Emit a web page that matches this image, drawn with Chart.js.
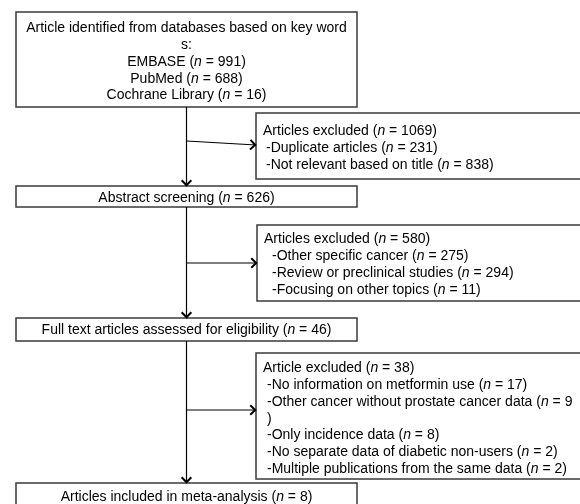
<!DOCTYPE html>
<html>
<head>
<meta charset="utf-8">
<script src="https://cdn.jsdelivr.net/npm/chart.js@4"></script>
<style>
  body { margin: 0; background: #fff; }
  #wrap { width: 580px; height: 504px; }
</style>
</head>
<body>
<div id="wrap"><canvas id="flow"></canvas></div>
<script>
// DATA
const headerLines = ["Article identified from databases based on key word", "s:"];
const sources = ["EMBASE", "PubMed", "Cochrane Library"];
const sourceCounts = [991, 688, 16];

const stageLabels = ["Abstract screening", "Full text articles assessed for eligibility", "Articles included in meta-analysis"];
const stageCounts = [626, 46, 8];

const excludedTitles = ["Articles excluded", "Articles excluded", "Article excluded"];
const excludedCounts = [1069, 580, 38];
const excludedReasons = [
  ["Duplicate articles", "Not relevant based on title"],
  ["Other specific cancer", "Review or preclinical studies", "Focusing on other topics"],
  ["No information on metformin use", "Other cancer without prostate cancer data", "Only incidence data",
   "No separate data of diabetic non-users", "Multiple publications from the same data"]
];
const reasonCounts = [
  [231, 838],
  [275, 294, 11],
  [17, 9, 8, 2, 2]
];

// LAYOUT (chart units, y grows downward)
const mainBox = { x0: 16, x1: 357 };
const sourceBox = { y0: 12, y1: 107, top: 28 };
const stageBoxes = [
  { y0: 186, y1: 207, top: 198 },
  { y0: 318, y1: 341, top: 330 },
  { y0: 483, y1: 522, top: 497 }
];
const exclBoxes = [
  { x0: 256, y0: 113, y1: 179, top: 131, indent: 3, from: 141, to: 145 },
  { x0: 257, y0: 225, y1: 301, top: 239, indent: 8, from: 263, to: 263 },
  { x0: 256, y0: 353, y1: 479, top: 368, indent: 4, from: 410, to: 410 }
];
const lineStep = 16.9;
const textPad = 7;
const FONT = "14px 'Liberation Sans', Arial, sans-serif";
const IFONT = "italic 14px 'Liberation Sans', Arial, sans-serif";

function countRuns(label, n){
  return [{ t: label + " (", it: false }, { t: "n", it: true }, { t: " = " + n + ")", it: false }];
}

function setFont(ctx, it){ ctx.font = it ? IFONT : FONT; }

// split runs into lines by characters when they pass maxW
function wrapRuns(ctx, runs, maxW){
  let lines = [[]], w = 0;
  runs.forEach(r => {
    setFont(ctx, r.it);
    let buf = "";
    for (const ch of r.t) {
      let cw = ctx.measureText(buf + ch).width - ctx.measureText(buf).width;
      if (w + cw > maxW && (buf || lines[lines.length - 1].length)) {
        if (buf) lines[lines.length - 1].push({ t: buf, it: r.it });
        lines.push([]);
        buf = ""; w = 0;
      }
      buf += ch; w += cw;
    }
    if (buf) lines[lines.length - 1].push({ t: buf, it: r.it });
  });
  return lines;
}

function runsWidth(ctx, runs){
  let w = 0;
  runs.forEach(r => { setFont(ctx, r.it); w += ctx.measureText(r.t).width; });
  return w;
}

function drawRuns(ctx, runs, x, y){
  runs.forEach(r => {
    setFont(ctx, r.it);
    ctx.fillText(r.t, x, y);
    x += ctx.measureText(r.t).width;
  });
}

const flowPlugin = {
  id: "flow",
  afterDraw(chart){
    const ctx = chart.ctx;
    const sx = chart.scales.x, sy = chart.scales.y;
    const X = v => sx.getPixelForValue(v);
    const Y = v => sy.getPixelForValue(v);
    const right = sx.max + 12;
    const step = Y(lineStep) - Y(0);

    ctx.save();
    ctx.fillStyle = "#000";
    ctx.textBaseline = "middle";
    ctx.textAlign = "left";

    function box(x0, y0, x1, y1){
      ctx.strokeStyle = "#3a3a3a";
      ctx.lineWidth = 1.5;
      ctx.strokeRect(X(x0), Y(y0), X(x1) - X(x0), Y(y1) - Y(y0));
    }
    function centered(runs, y){
      const cx = X((mainBox.x0 + mainBox.x1) / 2);
      drawRuns(ctx, runs, cx - runsWidth(ctx, runs) / 2, y);
    }
    function arrow(x0, y0, x1, y1){
      ctx.strokeStyle = "#000";
      ctx.lineWidth = 1.2;
      ctx.beginPath();
      ctx.moveTo(X(x0), Y(y0));
      ctx.lineTo(X(x1), Y(y1));
      ctx.stroke();
      const a = Math.atan2(Y(y1) - Y(y0), X(x1) - X(x0));
      const len = 7.5, wing = 0.7;
      ctx.lineWidth = 2;
      ctx.lineJoin = "miter";
      ctx.beginPath();
      ctx.moveTo(X(x1) - len * Math.cos(a - wing), Y(y1) - len * Math.sin(a - wing));
      ctx.lineTo(X(x1) - 0.8 * Math.cos(a), Y(y1) - 0.8 * Math.sin(a));
      ctx.lineTo(X(x1) - len * Math.cos(a + wing), Y(y1) - len * Math.sin(a + wing));
      ctx.stroke();
    }

    // source box
    box(mainBox.x0, sourceBox.y0, mainBox.x1, sourceBox.y1);
    let lines = headerLines.map(t => [{ t: t, it: false }]);
    sources.forEach((s, i) => lines.push(countRuns(s, sourceCounts[i])));
    lines.forEach((l, i) => centered(l, Y(sourceBox.top) + i * step));

    // stage boxes
    stageBoxes.forEach((b, i) => {
      box(mainBox.x0, b.y0, mainBox.x1, b.y1);
      centered(countRuns(stageLabels[i], stageCounts[i]), Y(b.top));
    });

    // main vertical flow
    const cx = (mainBox.x0 + mainBox.x1) / 2;
    arrow(cx, sourceBox.y1, cx, stageBoxes[0].y0);
    arrow(cx, stageBoxes[0].y1, cx, stageBoxes[1].y0);
    arrow(cx, stageBoxes[1].y1, cx, stageBoxes[2].y0);

    // excluded boxes
    exclBoxes.forEach((b, i) => {
      box(b.x0, b.y0, right, b.y1);
      arrow(cx, b.from, b.x0, b.to);
      const tx = X(b.x0 + textPad);
      const maxW = X(sx.max - 5) - tx;
      let out = [countRuns(excludedTitles[i], excludedCounts[i])];
      excludedReasons[i].forEach((r, j) => {
        wrapRuns(ctx, countRuns("-" + r, reasonCounts[i][j]), maxW - b.indent).forEach(l => out.push(l));
      });
      out.forEach((l, k) => drawRuns(ctx, l, tx + (k ? b.indent : 0), Y(b.top) + k * step));
    });
    ctx.restore();
  }
};

new Chart(document.getElementById("flow"), {
  type: "scatter",
  data: { datasets: [{ data: [] }] },
  options: {
    responsive: true,
    maintainAspectRatio: false,
    animation: false,
    layout: { padding: 0 },
    plugins: { legend: { display: false }, tooltip: { enabled: false } },
    scales: {
      x: { type: "linear", min: 0, max: 580, display: false },
      y: { type: "linear", min: 0, max: 504, reverse: true, display: false }
    }
  },
  plugins: [flowPlugin]
});
</script>
</body>
</html>
